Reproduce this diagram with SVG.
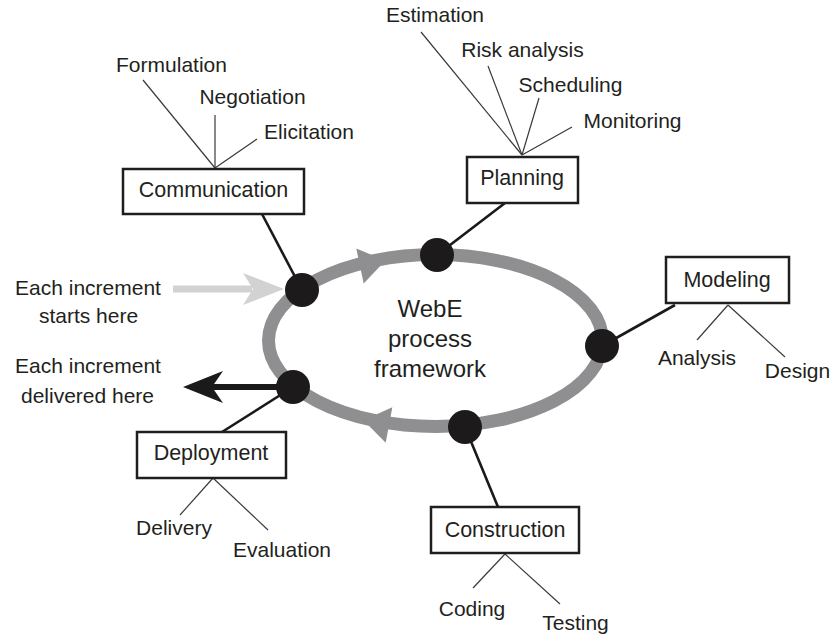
<svg xmlns="http://www.w3.org/2000/svg" width="834" height="640" viewBox="0 0 834 640">
<style>
  text { font-family: "Liberation Sans", Arial, sans-serif; fill: #231f20; }
  .lbl { font-size: 21px; }
  .box { fill: #ffffff; stroke: #1e1e1e; stroke-width: 2.5; }
  .boxt { font-size: 21.5px; text-anchor: middle; }
  .sub { font-size: 21px; text-anchor: middle; }
  .ctr { font-size: 24px; text-anchor: middle; }
  .link { stroke: #1a1a1a; stroke-width: 2.6; fill: none; }
  .leaf { stroke: #3a3a3a; stroke-width: 1.2; fill: none; }
  .dot { fill: #1c1a1b; }
</style>
<rect width="834" height="640" fill="#ffffff"/>

<g id="ring">
  <ellipse cx="435.5" cy="340.5" rx="167" ry="86" fill="none" stroke="#8f8f91" stroke-width="13"/>
  <polygon points="385.4,260.6 363.7,283.6 356.3,248.4" fill="#8f8f91"/>
  <polygon points="363.4,420.2 392.3,407.3 385.7,442.7" fill="#8f8f91"/>
</g>

<g id="connectors">
  <line class="link" x1="262" y1="214" x2="302" y2="290"/>
  <line class="link" x1="505" y1="203" x2="437" y2="255"/>
  <line class="link" x1="675" y1="305" x2="602" y2="346"/>
  <line class="link" x1="465" y1="427" x2="498" y2="507"/>
  <line class="link" x1="293" y1="387" x2="222" y2="432"/>

  <line class="leaf" x1="143" y1="80" x2="215" y2="168"/>
  <line class="leaf" x1="215" y1="115" x2="215" y2="168"/>
  <line class="leaf" x1="257" y1="139" x2="215" y2="168"/>

  <line class="leaf" x1="421" y1="32" x2="522" y2="155"/>
  <line class="leaf" x1="488" y1="66" x2="522" y2="155"/>
  <line class="leaf" x1="539" y1="98" x2="522" y2="155"/>
  <line class="leaf" x1="572" y1="127" x2="522" y2="155"/>

  <line class="leaf" x1="697" y1="340" x2="728" y2="305"/>
  <line class="leaf" x1="785" y1="357" x2="728" y2="305"/>

  <line class="leaf" x1="473" y1="588" x2="505" y2="554"/>
  <line class="leaf" x1="560" y1="604" x2="505" y2="554"/>

  <line class="leaf" x1="180" y1="515" x2="213" y2="478"/>
  <line class="leaf" x1="268" y1="530" x2="213" y2="478"/>

  <!-- increment start arrow -->
  <line x1="173" y1="289" x2="252" y2="289" stroke="#d2d2d2" stroke-width="7"/>
  <polygon points="284,289 243,273 253,289 243,305" fill="#d2d2d2"/>
  <!-- increment delivered arrow -->
  <line x1="293" y1="387" x2="212" y2="387" stroke="#1a1a1a" stroke-width="6"/>
  <polygon points="183,387 223,371 212,387 223,403" fill="#1a1a1a"/>
</g>

<g id="dots">
  <circle class="dot" cx="302" cy="290" r="17"/>
  <circle class="dot" cx="437" cy="255" r="17"/>
  <circle class="dot" cx="602" cy="346" r="17"/>
  <circle class="dot" cx="465" cy="427" r="17"/>
  <circle class="dot" cx="293" cy="387" r="17"/>
</g>

<g id="center-label">
  <text class="ctr" x="430" y="317">WebE</text>
  <text class="ctr" x="430" y="347">process</text>
  <text class="ctr" x="430" y="377">framework</text>
</g>

<g id="node-communication">
  <rect class="box" x="123" y="169" width="181" height="45"/>
  <text class="boxt" x="213.5" y="197">Communication</text>
  <text class="sub" x="171.5" y="72">Formulation</text>
  <text class="sub" x="252.5" y="104">Negotiation</text>
  <text class="sub" x="309" y="139">Elicitation</text>
</g>

<g id="node-planning">
  <rect class="box" x="467" y="157" width="111" height="46"/>
  <text class="boxt" x="522" y="185">Planning</text>
  <text class="sub" x="435" y="22">Estimation</text>
  <text class="sub" x="522.5" y="57">Risk analysis</text>
  <text class="sub" x="570.5" y="92">Scheduling</text>
  <text class="sub" x="632.5" y="128">Monitoring</text>
</g>

<g id="node-modeling">
  <rect class="box" x="666" y="257" width="123" height="46"/>
  <text class="boxt" x="727" y="287">Modeling</text>
  <text class="sub" x="697" y="365">Analysis</text>
  <text class="sub" x="797.5" y="378">Design</text>
</g>

<g id="node-construction">
  <rect class="box" x="431" y="507" width="148" height="46"/>
  <text class="boxt" x="505" y="537">Construction</text>
  <text class="sub" x="472" y="616">Coding</text>
  <text class="sub" x="575.5" y="630">Testing</text>
</g>

<g id="node-deployment">
  <rect class="box" x="137" y="432" width="149" height="46"/>
  <text class="boxt" x="211" y="460">Deployment</text>
  <text class="sub" x="174" y="535">Delivery</text>
  <text class="sub" x="282" y="557">Evaluation</text>
</g>

<g id="increment-labels">
  <text class="sub" x="88" y="295">Each increment</text>
  <text class="sub" x="88.5" y="323">starts here</text>
  <text class="sub" x="88" y="373">Each increment</text>
  <text class="sub" x="87.5" y="403">delivered here</text>
</g>
</svg>
